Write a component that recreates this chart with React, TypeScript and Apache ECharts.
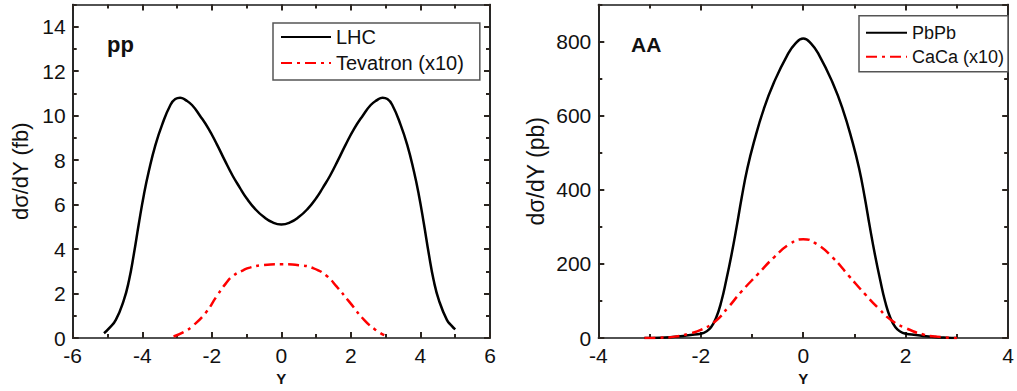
import React, { useEffect, useRef } from "react";
import * as echarts from "echarts";

// ---- Data ----
const lhcX = [-5.1, -4.95, -4.76, -4.53, -4.38, -4.24, -4.1, -3.95, -3.81, -3.62, -3.43, -3.19, -3.05, -2.91, -2.75, -2.57, -2.34, -2.1, -1.85, -1.63, -1.4, -1.2, -1.0, -0.75, -0.5, -0.25, 0, 0.25, 0.5, 0.75, 1.0, 1.2, 1.4, 1.63, 1.85, 2.1, 2.34, 2.57, 2.75, 2.91, 3.05, 3.19, 3.43, 3.62, 3.81, 3.95, 4.1, 4.24, 4.38, 4.53, 4.76, 4.9, 5.0];
const lhcY = [0.22, 0.45, 0.82, 1.71, 2.6, 3.79, 5.13, 6.47, 7.51, 8.69, 9.59, 10.48, 10.75, 10.81, 10.7, 10.48, 10.0, 9.43, 8.7, 8.0, 7.3, 6.78, 6.29, 5.8, 5.44, 5.2, 5.11, 5.2, 5.44, 5.8, 6.29, 6.78, 7.3, 8.0, 8.7, 9.43, 10.0, 10.48, 10.7, 10.81, 10.75, 10.48, 9.59, 8.69, 7.51, 6.47, 5.13, 3.79, 2.6, 1.71, 0.82, 0.55, 0.39];

const tevX = [-3.1, -2.8, -2.57, -2.19, -1.86, -1.6, -1.39, -1.1, -0.91, -0.5, 0, 0.5, 0.91, 1.3, 1.6, 1.95, 2.38, 2.7, 2.96];
const tevY = [0.07, 0.28, 0.52, 1.11, 1.88, 2.45, 2.8, 3.05, 3.17, 3.29, 3.32, 3.28, 3.15, 2.8, 2.3, 1.64, 0.82, 0.38, 0.13];

const pbX = [-3.1, -2.8, -2.6, -2.4, -2.2, -2.0, -1.9, -1.8, -1.7, -1.6, -1.5, -1.4, -1.3, -1.2, -1.09, -0.96, -0.77, -0.57, -0.32, -0.15, 0, 0.15, 0.32, 0.57, 0.77, 0.96, 1.09, 1.2, 1.3, 1.4, 1.5, 1.6, 1.7, 1.8, 1.9, 2.0, 2.2, 2.4, 2.6, 2.8, 3.0];
const pbY = [0, 1, 2.5, 5, 8.5, 12, 17, 29, 55, 98, 158, 225, 300, 380, 458, 530, 618, 690, 761, 795, 808, 795, 761, 690, 618, 530, 458, 380, 300, 225, 158, 98, 55, 29, 17, 12, 8.5, 5, 2.5, 1, 0];

const caX = [-3.1, -2.8, -2.5, -2.2, -2.0, -1.72, -1.47, -1.21, -0.89, -0.57, -0.26, 0, 0.26, 0.57, 0.89, 1.21, 1.47, 1.72, 2.0, 2.36, 2.6, 3.0];
const caY = [0, 1, 4, 13, 22, 45, 82, 125, 172, 218, 254, 267, 254, 218, 168, 118, 80, 48, 27, 9, 4, 0];

const ppRange = { xMin: -6, xMax: 6, xStep: 2, yMin: 0, yMax: 15, yStep: 2, yMinor: 1 };
const aaRange = { xMin: -4, xMax: 4, xStep: 2, yMin: 0, yMax: 900, yStep: 200, yMinor: 100 };

const FONT = "'Liberation Sans', Arial, sans-serif";
const LINE_COLOR = "#1a1a1a";
const TICK_COLOR = "#2b2520";
const TICK_W = 2;
const DASH_DOT = [11, 5, 3, 5];

const pairs = (xs: number[], ys: number[]) => xs.map((x, i) => [x, ys[i]]);

function xAxes(gridIndex: number, r: typeof ppRange) {
  const tick = { color: TICK_COLOR, width: TICK_W };
  const base = {
    type: "value",
    gridIndex,
    min: r.xMin,
    max: r.xMax,
    interval: r.xStep,
    splitLine: { show: false },
    axisLine: { show: true, onZero: false, lineStyle: { color: LINE_COLOR, width: 1.5 } },
    axisTick: { show: true, inside: true, length: 6, lineStyle: tick },
    minorTick: { show: true, splitNumber: 2, length: 4, lineStyle: tick },
    minorSplitLine: { show: false },
  };
  return [
    {
      ...base,
      position: "bottom",
      axisLabel: { fontSize: 21, color: "#111", fontFamily: FONT, margin: 7 },
      name: "Y",
      nameLocation: "middle",
      nameGap: 28,
      nameTextStyle: { fontSize: 15, fontWeight: "bold", color: "#111", fontFamily: FONT },
    },
    { ...base, position: "top", axisLabel: { show: false } },
  ];
}

function yAxes(gridIndex: number, r: typeof ppRange, name: string, nameGap: number, nameSize: number) {
  const tick = { color: TICK_COLOR, width: TICK_W };
  const major = {
    type: "value",
    gridIndex,
    min: r.yMin,
    max: r.yMax,
    interval: r.yStep,
    splitLine: { show: false },
    axisLine: { show: true, onZero: false, lineStyle: { color: LINE_COLOR, width: 1.5 } },
    axisTick: { show: true, inside: true, length: 6, lineStyle: tick },
  };
  const minor = {
    type: "value",
    gridIndex,
    min: r.yMin,
    max: r.yMax,
    interval: r.yMinor,
    splitLine: { show: false },
    axisLine: { show: true, onZero: false, lineStyle: { color: LINE_COLOR, width: 1.5 } },
    axisTick: { show: true, inside: true, length: 4, lineStyle: tick },
    axisLabel: { show: false },
  };
  return [
    {
      ...major,
      position: "left",
      axisLabel: { fontSize: 21, color: "#111", fontFamily: FONT, margin: 7, showMaxLabel: false },
      name,
      nameLocation: "middle",
      nameRotate: 90,
      nameGap,
      nameTextStyle: { fontSize: nameSize, color: "#111", fontFamily: FONT },
    },
    { ...minor, position: "left" },
    { ...major, position: "right", axisLabel: { show: false } },
    { ...minor, position: "right" },
  ];
}

export default function App() {
  const ref = useRef<HTMLDivElement>(null);

  useEffect(() => {
    if (!ref.current) return;
    const chart = echarts.init(ref.current, undefined, { renderer: "svg" });

    const lineSeries = (name: string, data: number[][], xi: number, yi: number, color: string, dashed: boolean) => ({
      type: "line",
      name,
      xAxisIndex: xi,
      yAxisIndex: yi,
      data,
      smooth: 0.5,
      symbol: "none",
      showSymbol: false,
      lineStyle: { color, width: 2.5, type: dashed ? DASH_DOT : "solid" },
      itemStyle: { color },
      z: 3,
    });

    const legendCommon = {
      orient: "vertical",
      itemGap: 6,
      borderColor: "#555",
      borderWidth: 1.5,
      backgroundColor: "#fff",
      itemStyle: { opacity: 0 },
    };

    const option = {
      animation: false,
      title: [
        { text: "pp", left: 107, top: 33, padding: 0, textStyle: { fontSize: 22, fontWeight: "bold", color: "#111", fontFamily: FONT } },
        { text: "AA", left: 631, top: 34, padding: 0, textStyle: { fontSize: 21, fontWeight: "bold", color: "#111", fontFamily: FONT } },
      ],
      grid: [
        { left: 72.7, top: 4.5, width: 417.3, height: 337.2 },
        { left: 598.3, top: 4.5, width: 416.7, height: 337.2 },
      ],
      legend: [
        {
          ...legendCommon,
          data: ["LHC", "Tevatron (x10)"],
          left: 273,
          top: 23,
          padding: [4, 16, 7, 7],
          itemWidth: 50,
          itemHeight: 20,
          textStyle: { fontSize: 20, color: "#111", fontFamily: FONT, lineHeight: 20 },
        },
        {
          ...legendCommon,
          data: ["PbPb", "CaCa (x10)"],
          left: 859,
          top: 15.7,
          padding: [8, 4, 6, 6],
          itemWidth: 41,
          itemHeight: 18,
          textStyle: { fontSize: 18, color: "#111", fontFamily: FONT, lineHeight: 18 },
        },
      ],
      xAxis: [...xAxes(0, ppRange), ...xAxes(1, aaRange)],
      yAxis: [
        ...yAxes(0, ppRange, "dσ/dY (fb)", 41, 22),
        ...yAxes(1, aaRange, "dσ/dY (pb)", 51, 23),
      ],
      series: [
        lineSeries("LHC", pairs(lhcX, lhcY), 0, 0, "#000000", false),
        lineSeries("Tevatron (x10)", pairs(tevX, tevY), 0, 0, "#ff0000", true),
        lineSeries("PbPb", pairs(pbX, pbY), 2, 4, "#000000", false),
        lineSeries("CaCa (x10)", pairs(caX, caY), 2, 4, "#ff0000", true),
      ],
    };

    chart.setOption(option as any);
    return () => chart.dispose();
  }, []);

  return (
    <div
      ref={ref}
      style={{ position: "fixed", left: 0, top: 0, width: 1017, height: 391, background: "#fff" }}
    />
  );
}
